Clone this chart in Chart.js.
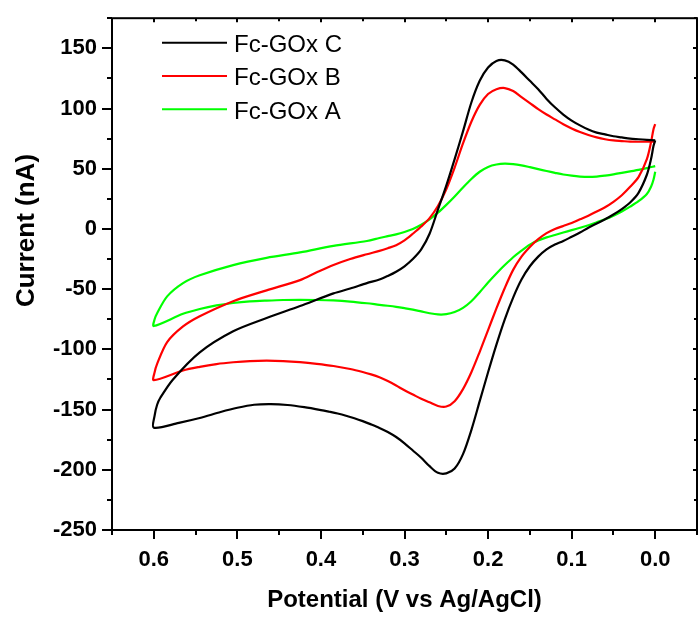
<!DOCTYPE html>
<html><head><meta charset="utf-8">
<script src="https://cdn.jsdelivr.net/npm/chart.js@4.4.1/dist/chart.umd.min.js"></script>
<style>html,body{margin:0;padding:0;background:#fff}#wrap{width:699px;height:618px}</style>
</head><body><div id="wrap"><canvas id="c" width="699" height="618"></canvas></div>
<script>
const seriesLabels = ['Fc-GOx C', 'Fc-GOx B', 'Fc-GOx A'];
const seriesColors = ['#000000', '#ff0000', '#00ff00'];

// Fc-GOx C : sweep 0.0 -> 0.6 V (lower branch) then 0.6 -> 0.0 V (upper branch)
const potentialC = [0,0.002,0.005,0.01,0.02,0.03,0.04,0.05,0.06,0.07,0.08,0.09,0.10,0.11,0.12,0.13,0.14,0.15,0.16,0.17,0.18,0.19,0.20,0.21,0.22,0.23,0.24,0.25,0.26,0.27,0.28,0.29,0.30,0.31,0.32,0.33,0.34,0.35,0.36,0.37,0.38,0.39,0.40,0.42,0.44,0.46,0.48,0.50,0.52,0.545,0.57,0.6,
  0.599,0.596,0.592,0.577,0.545,0.505,0.465,0.425,0.385,0.365,0.345,0.33,0.32,0.31,0.30,0.29,0.28,0.27,0.26,0.25,0.24,0.23,0.22,0.21,0.20,0.19,0.18,0.17,0.16,0.15,0.14,0.13,0.12,0.11,0.10,0.09,0.08,0.07,0.06,0.05,0.04,0.03,0.02,0.01,0];
const currentC = [73.5,69,58,45,30,22,16.5,12,8,4.5,1,-3,-6.5,-10,-13,-17,-23,-31,-42,-57,-75,-96,-119,-143,-167,-187,-199,-203,-202.5,-197,-190,-184,-178,-172.8,-168.6,-165.2,-162.3,-159.6,-157.2,-155.1,-153.3,-151.8,-150.4,-148,-146.2,-145.5,-146,-148.5,-152,-157,-161,-165,
  -155,-146,-140,-125,-102.5,-85,-74,-64,-53.5,-49.5,-45,-42,-39,-35.5,-31,-25,-17,-4,16,36,58,81,105,123,134,139.5,140,136.5,130,123,116,108,101,95,90,86,82.5,80,78.5,77,76,75,74.5,74,73.5];

// Fc-GOx B
const potentialB = [0,0.002,0.005,0.01,0.02,0.03,0.04,0.05,0.06,0.07,0.08,0.09,0.10,0.11,0.12,0.13,0.14,0.15,0.16,0.17,0.18,0.19,0.20,0.21,0.22,0.23,0.24,0.25,0.26,0.27,0.28,0.29,0.30,0.31,0.32,0.33,0.34,0.35,0.365,0.385,0.405,0.425,0.445,0.465,0.485,0.505,0.525,0.545,0.565,0.6,
  0.599,0.596,0.584,0.565,0.545,0.505,0.465,0.425,0.405,0.385,0.365,0.345,0.33,0.32,0.31,0.30,0.29,0.28,0.27,0.26,0.25,0.24,0.23,0.22,0.21,0.20,0.19,0.18,0.17,0.16,0.15,0.14,0.13,0.12,0.11,0.10,0.09,0.08,0.07,0.06,0.05,0.04,0.03,0.02,0.01,0];
const currentB = [87,83,72,58,43,35,28,22.5,18,14.5,11,8,5,2.5,0,-3.5,-8.5,-15,-23,-34,-49,-66,-84,-102,-119,-133,-143,-147.5,-147,-144,-141,-137.5,-134,-130,-126.3,-123.2,-120.8,-118.8,-116.3,-113.8,-112,-110.6,-109.7,-109.4,-109.7,-110.7,-112.2,-114.5,-117.5,-125.6,
  -119,-112,-94,-81,-72.5,-60,-51,-42.5,-36,-30,-25,-21,-18.2,-16,-13.5,-9.5,-4,2,9,19,33,51,71,89,103,112,116,117,114.5,109.5,104.5,99.5,95,91,87,83.5,80.5,78,76,74.5,73.5,73,72.5,72.4,72.4,72.4];

// Fc-GOx A
const potentialA = [0,0.002,0.005,0.01,0.02,0.03,0.04,0.05,0.06,0.07,0.08,0.09,0.10,0.11,0.12,0.13,0.14,0.15,0.16,0.17,0.18,0.19,0.20,0.21,0.22,0.23,0.24,0.25,0.26,0.27,0.28,0.29,0.30,0.31,0.32,0.33,0.345,0.365,0.385,0.405,0.425,0.445,0.465,0.485,0.505,0.525,0.545,0.565,0.6,
  0.599,0.596,0.584,0.565,0.545,0.505,0.465,0.425,0.385,0.345,0.33,0.32,0.31,0.30,0.29,0.28,0.27,0.26,0.25,0.24,0.23,0.22,0.21,0.20,0.19,0.18,0.17,0.16,0.15,0.14,0.13,0.12,0.11,0.10,0.09,0.08,0.07,0.06,0.05,0.04,0.03,0.02,0.01,0];
const currentA = [47.5,41,35,29,23,18.5,14.5,11,8,5.5,3,1,-1,-3,-5,-7,-9.5,-13,-18,-23.5,-30,-37,-44.5,-52.5,-60,-65.5,-69,-70.8,-71,-70,-68.5,-67,-65.8,-64.7,-63.8,-63,-61.7,-60.3,-59.4,-59,-58.9,-59,-59.5,-60.2,-61.5,-63.5,-66.5,-70.5,-80.6,
  -75,-70,-56,-45,-38.5,-30,-24,-19.5,-14,-10,-7.5,-6,-4.5,-2.5,0,3.5,8,13.5,20,27,34.5,41.5,47.5,51.5,53.5,54.2,53.8,52.8,51.3,49.7,48.1,46.6,45.2,44.2,43.5,43.2,43.5,44.3,45.3,46.5,47.8,49,50.5,52.2];

const xTickValues = [0.6, 0.5, 0.4, 0.3, 0.2, 0.1, 0.0];
const xMinorTickValues = [0.65, 0.55, 0.45, 0.35, 0.25, 0.15, 0.05, -0.05];
const yTickValues = [150, 100, 50, 0, -50, -100, -150, -200, -250];
const yMinorTickValues = [175, 125, 75, 25, -25, -75, -125, -175, -225];
const xTitle = 'Potential (V vs Ag/AgCl)';
const yTitle = 'Current (nA)';

const FAMILY = "'Liberation Sans', Arial, Helvetica, sans-serif";

function pts(xs, ys) { return xs.map((v, i) => ({ x: v, y: ys[i] })); }

const seriesData = [pts(potentialC, currentC), pts(potentialB, currentB), pts(potentialA, currentA)];

const decoPlugin = {
  id: 'deco',
  afterDraw(chart) {
    const { ctx, chartArea: a, scales: { x, y } } = chart;
    ctx.save();
    ctx.strokeStyle = '#000';
    ctx.lineWidth = 2;
    ctx.strokeRect(a.left, a.top, a.right - a.left, a.bottom - a.top);
    ctx.beginPath();
    const xt = (v, outLen, inLen) => {
      const px = Math.round(x.getPixelForValue(v));
      ctx.moveTo(px, a.bottom); ctx.lineTo(px, a.bottom + outLen);
      ctx.moveTo(px, a.top); ctx.lineTo(px, a.top + inLen);
    };
    const yt = (v, outLen, inLen) => {
      const py = Math.round(y.getPixelForValue(v));
      ctx.moveTo(a.left, py); ctx.lineTo(a.left - outLen, py);
      ctx.moveTo(a.right, py); ctx.lineTo(a.right - inLen, py);
    };
    xTickValues.forEach(v => xt(v, 9, 4));
    xMinorTickValues.forEach(v => xt(v, 5, 3));
    yTickValues.forEach(v => yt(v, 10, 4));
    yMinorTickValues.forEach(v => yt(v, 5, 3));
    ctx.stroke();

    // axis titles
    ctx.fillStyle = '#000';
    ctx.font = 'bold 24px ' + FAMILY;
    ctx.textAlign = 'center';
    ctx.textBaseline = 'alphabetic';
    ctx.fillText(xTitle, (a.left + a.right) / 2, 607);
    ctx.save();
    ctx.translate(34, 230.5);
    ctx.rotate(-Math.PI / 2);
    ctx.font = 'bold 26px ' + FAMILY;
    ctx.fillText(yTitle, 0, 0);
    ctx.restore();

    // legend
    ctx.font = '24px ' + FAMILY;
    ctx.textAlign = 'left';
    const rows = [42.7, 76, 109.3];
    chart.data.datasets.forEach((ds, i) => {
      ctx.strokeStyle = ds.borderColor;
      ctx.lineWidth = 2;
      ctx.beginPath();
      ctx.moveTo(162, rows[i]); ctx.lineTo(227, rows[i]);
      ctx.stroke();
      ctx.fillStyle = '#000';
      ctx.fillText(ds.label, 234, rows[i] + 9.4);
    });
    ctx.restore();
  }
};

new Chart(document.getElementById('c'), {
  type: 'scatter',
  data: {
    datasets: seriesData.map((d, i) => ({
      label: seriesLabels[i],
      data: d,
      borderColor: seriesColors[i],
      backgroundColor: seriesColors[i],
      showLine: true,
      fill: false,
      pointRadius: 0,
      borderWidth: 2.2,
      tension: 0.3
    }))
  },
  options: {
    responsive: false,
    animation: false,
    devicePixelRatio: 1,
    layout: { padding: { left: 0, right: 2, top: 10, bottom: 0 } },
    plugins: { legend: { display: false }, tooltip: { enabled: false } },
    scales: {
      x: {
        type: 'linear', reverse: true, min: -0.05, max: 0.65,
        afterBuildTicks: s => { s.ticks = xTickValues.map(v => ({ value: v })); },
        afterFit: s => { s.height = 88; },
        grid: { display: false, drawTicks: true, tickLength: 9 },
        border: { display: false },
        ticks: { padding: 8, color: '#000', autoSkip: false, maxRotation: 0,
          font: { family: FAMILY, size: 22, weight: 'bold' },
          callback: v => Number(v).toFixed(1) }
      },
      y: {
        type: 'linear', min: -250, max: 175,
        afterBuildTicks: s => { s.ticks = yTickValues.map(v => ({ value: v })); },
        afterFit: s => { s.width = 112; },
        grid: { display: false, drawTicks: true, tickLength: 10 },
        border: { display: false },
        ticks: { padding: 5, color: '#000', autoSkip: false,
          font: { family: FAMILY, size: 22, weight: 'bold' },
          callback: v => String(v) }
      }
    }
  },
  plugins: [decoPlugin]
});
</script>
</body></html>
